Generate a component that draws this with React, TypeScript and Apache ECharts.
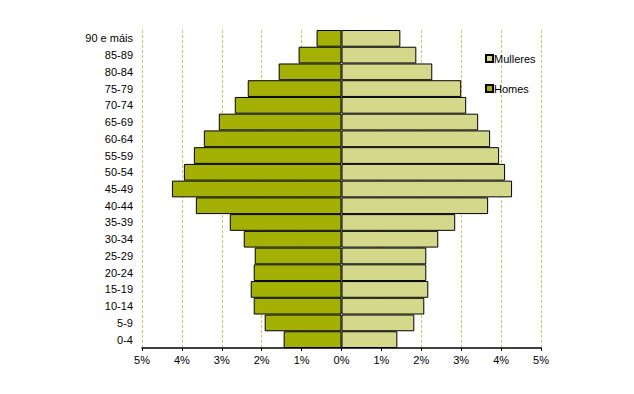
import React, { useEffect, useRef } from "react";
import * as echarts from "echarts";

const categories = ["0-4", "5-9", "10-14", "15-19", "20-24", "25-29", "30-34", "35-39", "40-44", "45-49", "50-54", "55-59", "60-64", "65-69", "70-74", "75-79", "80-84", "85-89", "90 e máis"];
const homes = [1.45, 1.925, 2.2, 2.275, 2.2, 2.175, 2.45, 2.8, 3.65, 4.25, 3.95, 3.7, 3.45, 3.075, 2.675, 2.35, 1.575, 1.075, 0.625];
const mulleres = [1.4, 1.825, 2.075, 2.175, 2.125, 2.125, 2.425, 2.85, 3.675, 4.275, 4.1, 3.95, 3.725, 3.425, 3.125, 3.0, 2.275, 1.875, 1.475];

const FONT = "'Liberation Sans', Arial, sans-serif";

export default function App() {
  const ref = useRef<HTMLDivElement>(null);
  useEffect(() => {
    document.body.style.margin = "0";
    const chart = echarts.init(ref.current!, undefined, { renderer: "svg" });
    chart.setOption({
      animation: false,
      textStyle: { fontFamily: FONT },
      legend: {
        orient: "vertical",
        left: 480,
        top: 48,
        itemGap: 19,
        itemWidth: 7,
        itemHeight: 7,
        icon: "rect",
        data: ["Mulleres", "Homes"],
        textStyle: { fontSize: 11, color: "#000", fontFamily: FONT, padding: [0, 0, 0, -4] },
      },
      grid: { left: 142, right: 93, top: 30, bottom: 46, containLabel: false },
      xAxis: {
        type: "value",
        min: -5,
        max: 5,
        interval: 1,
        axisLine: { show: true, lineStyle: { color: "#000", width: 1.5 } },
        axisTick: { show: true, length: 3, lineStyle: { color: "#000" } },
        axisLabel: {
          color: "#000",
          fontSize: 11,
          fontFamily: FONT,
          margin: 6,
          formatter: (v: number) => Math.abs(v) + "%",
        },
        splitLine: { show: true, lineStyle: { color: "#c6c86a", type: [3, 2], width: 1 } },
      },
      yAxis: {
        type: "category",
        data: categories,
        axisLine: { show: false },
        axisTick: { show: false },
        axisLabel: { color: "#000", fontSize: 11, fontFamily: FONT, margin: 9 },
      },
      series: [
        {
          name: "Homes",
          type: "bar",
          data: homes.map((v) => -v),
          barGap: "-100%",
          barCategoryGap: 0,
          itemStyle: { color: "#a4b004", borderColor: "#000", borderWidth: 1 },
        },
        {
          name: "Mulleres",
          type: "bar",
          data: mulleres,
          barGap: "-100%",
          barCategoryGap: 0,
          itemStyle: { color: "#d4d88a", borderColor: "#000", borderWidth: 1 },
        },
      ],
    });
    return () => chart.dispose();
  }, []);
  return <div ref={ref} style={{ width: 634, height: 394 }} />;
}
